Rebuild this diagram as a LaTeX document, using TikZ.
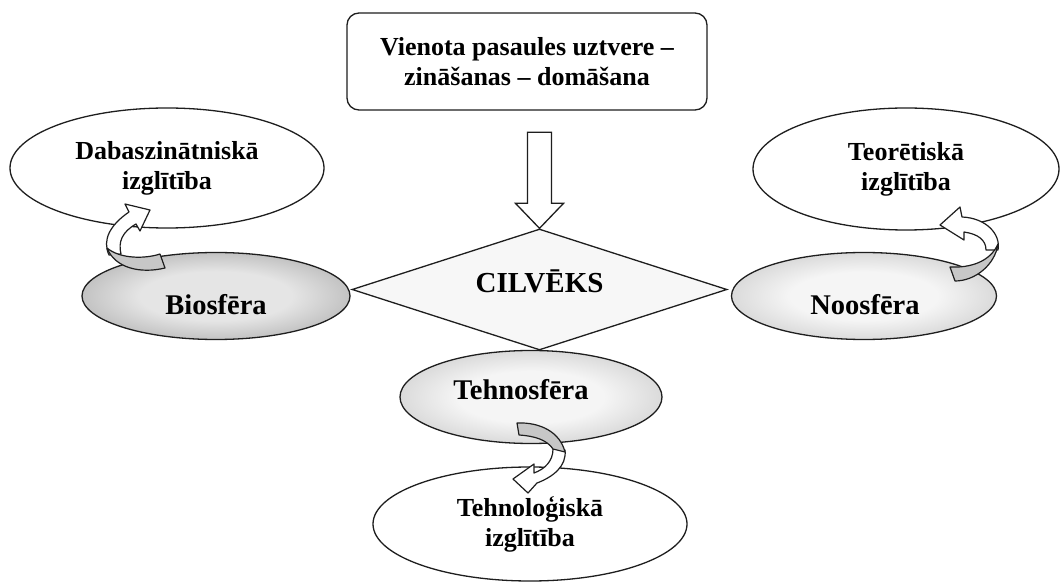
\documentclass[tikz,border=0pt]{standalone}
\usepackage{fontspec}
\setmainfont{Liberation Serif}
\usetikzlibrary{shapes.geometric,calc}

\definecolor{ink}{HTML}{1E1E1E}
\definecolor{bioIn}{gray}{0.90}
\definecolor{bioOut}{gray}{0.50}
\definecolor{sphIn}{gray}{0.96}
\definecolor{sphOut}{gray}{0.66}
\definecolor{tailgray}{gray}{0.78}
\definecolor{diafill}{gray}{0.97}

% radial shadings for the three spheres (stretched to each ellipse)
\pgfdeclareradialshading{bioshade}{\pgfpoint{0bp}{0bp}}{color(0bp)=(bioIn); color(14bp)=(bioIn); color(46bp)=(bioOut); color(50bp)=(bioOut)}
\pgfdeclareradialshading{sphshade}{\pgfpoint{0bp}{0bp}}{color(0bp)=(sphIn); color(14bp)=(sphIn); color(46bp)=(sphOut); color(50bp)=(sphOut)}

\tikzset{
  outline/.style={draw=ink, line width=1.3pt},
  edu/.style={outline, ellipse, fill=white, inner sep=0pt, align=center,
    font=\fontsize{26}{30}\selectfont\bfseries},
  sphere/.style={outline, ellipse, inner sep=0pt},
  slbl/.style={font=\fontsize{28.5}{32}\selectfont\bfseries, inner sep=0pt, anchor=base},
  band/.style={draw=ink, line width=1.2pt, line join=round, fill=white},
  bandback/.style={band, fill=tailgray},
}

\begin{document}
\begin{tikzpicture}[x=1pt, y=-1pt]
\fill[white] (0,0) rectangle (1061,585);
\useasboundingbox (0,0) rectangle (1061,585);

% heading box
\node[outline, rectangle, rounded corners=12pt, fill=white, minimum width=360pt,
      minimum height=97pt, inner sep=0pt, align=center,
      font=\fontsize{26}{30}\selectfont\bfseries] (top) at (527,61.5)
      {Vienota pasaules uztvere --\\zināšanas -- domāšana};

% education ellipses
\node[edu, minimum width=314pt, minimum height=120pt] (dab) at (167,168)
  {Dabaszinātniskā\\izglītība};
\node[edu, minimum width=306pt, minimum height=122pt] (teo) at (906,169)
  {Teorētiskā\\izglītība};
\node[edu, minimum width=314pt, minimum height=114pt] (tgl) at (530,524)
  {Tehnoloģiskā\\izglītība};

% spheres
\node[sphere, shading=bioshade, minimum width=268pt, minimum height=87pt] (bio) at (216,296) {};
\node[sphere, shading=sphshade, minimum width=265pt, minimum height=87pt] (noo) at (864,296) {};
\node[sphere, shading=sphshade, minimum width=262pt, minimum height=93pt] (teh) at (531,397) {};
\node[slbl] (biol) at ($(bio.center)+(0,19)$) {Biosfēra};
\node[slbl] (nool) at ($(noo.center)+(1,19)$) {Noosfēra};
\node[slbl] (tehl) at ($(teh.center)+(-10,3)$) {Tehnosfēra};

% central diamond
\node[outline, diamond, fill=diafill, inner sep=0pt, aspect=3.1,
      minimum width=375pt, minimum height=121pt] (dia) at (539.5,289.5) {};
\node[font=\fontsize{29}{32}\selectfont\bfseries, inner sep=0pt, anchor=base]
  (cil) at ($(dia.center)+(0,3.5)$) {CILVĒKS};

% block arrow from the heading to the diamond
\draw[outline, fill=white, line join=miter]
  ($(dia.north)+(-12,-96)$) -- ($(dia.north)+(12,-96)$) -- ($(dia.north)+(12,-25)$)
  -- ($(dia.north)+(24,-25)$) -- (dia.north) -- ($(dia.north)+(-24,-25)$)
  -- ($(dia.north)+(-12,-25)$) -- cycle;

% curved arrow: Biosfera -> Dabaszinatniska izglitiba
\filldraw[band] (109,255) .. controls (102,240) and (110,225) .. (129,212)
  -- (125,204) -- (150,210) -- (140,231) -- (136,224)
  .. controls (122,232) and (118,242) .. (121,254) -- cycle;
\filldraw[bandback] (107,248) .. controls (120,259) and (145,259) .. (160,254)
  -- (165,268) .. controls (140,274) and (115,268) .. (107,248) -- cycle;

% curved arrow: Noosfera -> Teoretiska izglitiba
\filldraw[band] (998,250) .. controls (1001,234) and (986,218) .. (962,217)
  -- (960,207) -- (940,225) -- (964,240) -- (964,232)
  .. controls (978,234) and (986,240) .. (986,250) -- cycle;
\filldraw[bandback] (998,244) .. controls (990,262) and (970,268) .. (950,267)
  -- (955,281) .. controls (975,281) and (995,265) .. (998,244) -- cycle;

% curved arrow: Tehnosfera -> Tehnologiska izglitiba
\filldraw[band] (565,450) .. controls (567,466) and (553,477) .. (537,483)
  -- (528,493) -- (513,479) -- (534,464) -- (534,473)
  .. controls (545,469) and (553,461) .. (553,449) -- cycle;
\filldraw[bandback] (517,423) .. controls (540,422) and (560,432) .. (565,452)
  -- (553,449) .. controls (547,440) and (535,436) .. (519,435) -- cycle;
\end{tikzpicture}
\end{document}
